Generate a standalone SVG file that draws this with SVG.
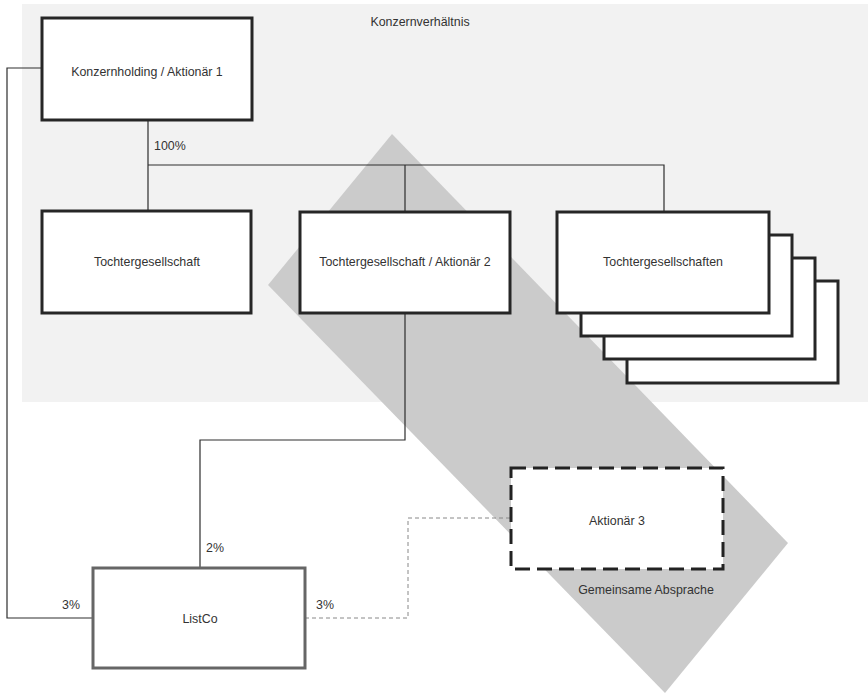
<svg xmlns="http://www.w3.org/2000/svg" width="868" height="695" viewBox="0 0 868 695">
<style>
text{font-family:"Liberation Sans",Arial,sans-serif;font-size:12.4px;fill:#333}
.box{fill:#fff;stroke:#262626;stroke-width:3}
.ln{fill:none;stroke:#2e2e2e;stroke-width:1.2}
.dl{fill:none;stroke:#888;stroke-width:1;stroke-dasharray:4 3}
</style>
<rect x="22" y="4" width="846" height="398" fill="#f2f2f2"/>
<polygon points="392,134 788,543 665,693 268,285" fill="#cbcbcb"/>
<text x="420" y="26" text-anchor="middle">Konzernverhältnis</text>
<text x="646" y="594" text-anchor="middle">Gemeinsame Absprache</text>
<g id="connectors">
<path class="ln" d="M148,120 V210 M148,165 H664 V212 M405,165 V212"/>
<path class="ln" d="M42,68 H7 V618 H93"/>
<path class="ln" d="M405,313 V440 H200 V568"/>
<path class="dl" d="M305,618 H408 V518 H511"/>
<text x="154" y="150">100%</text>
<text x="206" y="552">2%</text>
<text x="62" y="609">3%</text>
<text x="316" y="609">3%</text>
</g>
<g id="holding"><rect class="box" x="42" y="18" width="210" height="102"/><text x="147" y="76" text-anchor="middle">Konzernholding / Aktionär 1</text></g>
<g id="tochter1"><rect class="box" x="42" y="211" width="209" height="102"/><text x="147" y="266" text-anchor="middle">Tochtergesellschaft</text></g>
<g id="tochter2"><rect class="box" x="300" y="212" width="210" height="101"/><text x="405" y="266" text-anchor="middle">Tochtergesellschaft / Aktionär 2</text></g>
<g id="tochterN">
<rect class="box" x="627" y="281" width="211" height="102"/>
<rect class="box" x="604" y="258" width="211" height="101"/>
<rect class="box" x="581" y="235" width="211" height="101"/>
<rect class="box" x="557" y="212" width="212" height="101"/>
<text x="663" y="266" text-anchor="middle">Tochtergesellschaften</text>
</g>
<g id="aktionaer3"><rect x="511" y="468" width="212" height="101" fill="#fff" stroke="#222" stroke-width="3" stroke-dasharray="15 7"/><text x="617" y="525" text-anchor="middle">Aktionär 3</text></g>
<g id="listco"><rect x="93" y="568" width="212" height="100" fill="#fff" stroke="#666" stroke-width="3"/><text x="200" y="623" text-anchor="middle">ListCo</text></g>
</svg>
